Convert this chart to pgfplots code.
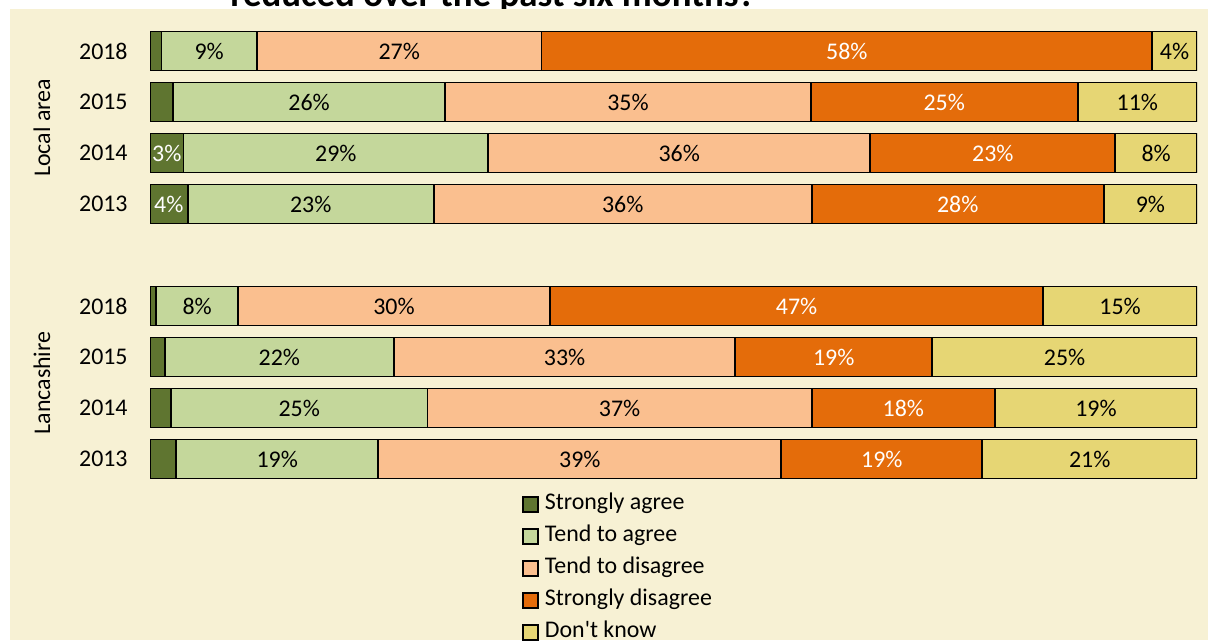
\documentclass[border=0pt]{standalone}
\usepackage{fontspec}
\setmainfont{Carlito}[Ligatures=TeXOff]
\usepackage{pgfplots}
\pgfplotsset{compat=1.18}
\usepackage{pgfplotstable}
\definecolor{bgc}{RGB}{247,241,212}
\definecolor{sa}{RGB}{95,117,48}
\definecolor{ta}{RGB}{196,215,155}
\definecolor{td}{RGB}{250,191,143}
\definecolor{sd}{RGB}{228,108,10}
\definecolor{dk}{RGB}{230,214,116}

\pgfplotstableread{
y sa ta td sd dk
0 2.5 19.3 38.5 19.2 20.5
1 2.0 24.5 36.7 17.5 19.3
2 1.4 21.9 32.6 18.8 25.3
3 0.6 7.8 29.8 47.1 14.7
5 3.6 23.5 36.1 27.9 8.9
6 3.2 29.1 36.5 23.4 7.8
7 2.2 26.0 34.9 25.5 11.4
8 1.1 9.1 27.2 58.3 4.3
}\datatable

\pgfplotstableread{
x y lab
5.65 8 9
23.8 8 27
97.85 8 4
15.2 7 26
45.65 7 35
94.3 7 11
17.75 6 29
50.55 6 36
96.1 6 8
15.35 5 23
45.15 5 36
95.55 5 9
4.5 3 8
23.3 3 30
92.65 3 15
12.35 2 22
39.6 2 33
87.35 2 25
14.25 1 25
44.85 1 37
90.35 1 19
12.15 0 19
41.05 0 39
89.75 0 21
}\blacklabels

\pgfplotstableread{
x y lab
66.55 8 58
75.85 7 25
1.6 6 3
80.5 6 23
1.8 5 4
77.15 5 28
61.75 3 47
65.3 2 19
71.95 1 18
69.9 0 19
}\whitelabels

\newcommand{\lblfont}{\fontsize{12}{14}\selectfont}

\begin{document}
\begin{tikzpicture}[x=1bp,y=1bp]
\useasboundingbox (0,0) rectangle (604,320);
\clip (0,0) rectangle (604,320);
\fill[white] (0,0) rectangle (604,320);
\node[font=\bfseries\fontsize{18.5}{22}\selectfont, anchor=base, inner sep=0pt] at (246.5,317) {reduced over the past six months?};
\fill[bgc] (5,0) rectangle (604,315.5);

\begin{axis}[
  at={(75bp,77.75bp)}, anchor=south west,
  scale only axis, width=523.5bp, height=229.5bp,
  xmin=0, xmax=100, ymin=-0.5, ymax=8.5,
  xbar stacked, bar width=19.5bp,
  axis line style={draw=none},
  xtick=\empty,
  ytick={0,1,2,3,5,6,7,8},
  yticklabels={2013,2014,2015,2018,2013,2014,2015,2018},
  major tick length=0pt,
  yticklabel style={font=\lblfont, inner sep=0pt, xshift=-11bp},
  legend cell align=left,
  legend image code/.code={\draw[#1] (0bp,-3.75bp) rectangle (7.5bp,3.75bp); \path (8.5bp,0bp);},
  legend style={at={(0.355,-0.0168)}, anchor=north west, draw=none, fill=none,
    font=\lblfont, row sep=4bp, inner sep=0pt,
    nodes={inner ysep=1bp, inner xsep=2bp, text height=0.75em, text depth=0.25em}},
]
\addplot[fill=sa, draw=black, line width=0.9bp] table[x=sa, y=y]{\datatable};
\addplot[fill=ta, draw=black, line width=0.9bp] table[x=ta, y=y]{\datatable};
\addplot[fill=td, draw=black, line width=0.9bp] table[x=td, y=y]{\datatable};
\addplot[fill=sd, draw=black, line width=0.9bp] table[x=sd, y=y]{\datatable};
\addplot[fill=dk, draw=black, line width=0.9bp] table[x=dk, y=y]{\datatable};
\legend{Strongly agree, Tend to agree, Tend to disagree, Strongly disagree, Don't know}
\end{axis}

\begin{axis}[
  at={(75bp,77.75bp)}, anchor=south west,
  scale only axis, width=523.5bp, height=229.5bp,
  xmin=0, xmax=100, ymin=-0.5, ymax=8.5,
  hide axis,
]
\addplot[draw=none, mark=none, point meta=explicit symbolic,
  nodes near coords={\pgfplotspointmeta\%},
  every node near coord/.style={anchor=center, font=\lblfont, text=black, inner sep=0pt}]
  table[x=x, y=y, meta=lab]{\blacklabels};
\addplot[draw=none, mark=none, point meta=explicit symbolic,
  nodes near coords={\pgfplotspointmeta\%},
  every node near coord/.style={anchor=center, font=\lblfont, text=white, inner sep=0pt}]
  table[x=x, y=y, meta=lab]{\whitelabels};
\end{axis}

\node[rotate=90, font=\lblfont] at (21,256) {Local area};
\node[rotate=90, font=\lblfont] at (21,128.5) {Lancashire};
\end{tikzpicture}
\end{document}
